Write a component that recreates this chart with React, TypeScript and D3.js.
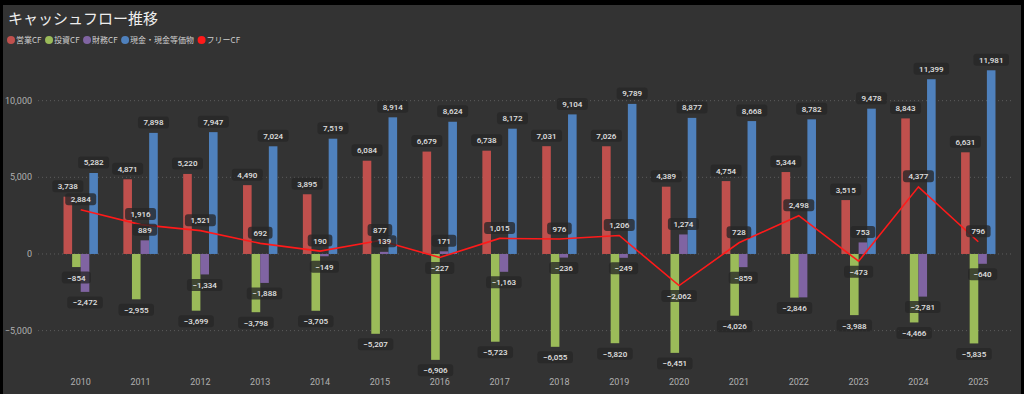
import React, { useEffect, useRef } from 'react'
import * as d3 from 'd3'

const width = 1024
const height = 394

const years = ['2010', '2011', '2012', '2013', '2014', '2015', '2016', '2017', '2018', '2019', '2020', '2021', '2022', '2023', '2024', '2025']
const operatingCF = [3738, 4871, 5220, 4490, 3895, 6084, 6679, 6738, 7031, 7026, 4389, 4754, 5344, 3515, 8843, 6631]
const investingCF = [-854, -2955, -3699, -3798, -3705, -5207, -6906, -5723, -6055, -5820, -6451, -4026, -2846, -3988, -4466, -5835]
const financingCF = [-2472, 889, -1334, -1888, -149, 139, 171, -1163, -236, -249, 1274, -859, -2830, 753, -2781, -640]
const cashBalance = [5282, 7898, 7947, 7024, 7519, 8914, 8624, 8172, 9104, 9789, 8877, 8668, 8782, 9478, 11399, 11981]
const freeCF = [2884, 1916, 1521, 692, 190, 877, -227, 1015, 976, 1206, -2062, 728, 2498, -473, 4377, 796]

const seriesNames = ['営業CF', '投資CF', '財務CF', '現金・現金等価物', 'フリーCF']
const seriesColors = ['#c0504d', '#9bbb59', '#8064a2', '#4f81bd', '#ff1a1a']
const yTicks = [-5000, 0, 5000, 10000]

const title = 'キャッシュフロー推移'
const labelFont = 'Roboto, "DejaVu Sans", sans-serif'
const jpFont = '"Noto Sans CJK JP", "Noto Sans", sans-serif'

function App() {
  const ref = useRef<SVGSVGElement>(null)

  useEffect(() => {
    const svg = d3.select(ref.current)
    svg.selectAll('*').remove()

    // 背景
    svg.append('rect').attr('width', width).attr('height', height).attr('fill', '#000')
    svg.append('rect')
      .attr('x', 3).attr('y', 5)
      .attr('width', 1018).attr('height', height - 5)
      .attr('fill', '#333333')

    const x = d3.scaleBand<string>()
      .domain(years)
      .range([50.8, 1008.2])
      .paddingInner(0.425)
      .paddingOuter(0.2125)
    const sub = d3.scaleBand<number>()
      .domain([0, 1, 2, 3])
      .range([0, x.bandwidth()])
    const y = d3.scaleLinear().domain([-7000, 12000]).range([361.3, 70])
    const fmt = d3.format(',')

    // グリッド
    svg.append('g').selectAll('line')
      .data(yTicks)
      .enter().append('line')
      .attr('x1', 38).attr('x2', 1012)
      .attr('y1', (d) => y(d)).attr('y2', (d) => y(d))
      .attr('stroke', '#5c5c5c')
      .attr('stroke-width', 1)
      .attr('stroke-dasharray', '1,3')

    svg.append('g').selectAll('text')
      .data(yTicks)
      .enter().append('text')
      .attr('x', 32)
      .attr('y', (d) => y(d) + 3)
      .attr('text-anchor', 'end')
      .style('font-family', labelFont)
      .style('font-size', '9px')
      .attr('fill', '#b0b0b0')
      .text((d) => fmt(d))

    svg.append('g').selectAll('text')
      .data(years)
      .enter().append('text')
      .attr('x', (d) => (x(d) as number) + x.bandwidth() / 2)
      .attr('y', 385)
      .attr('text-anchor', 'middle')
      .style('font-family', labelFont)
      .style('font-size', '9px')
      .attr('fill', '#b0b0b0')
      .text((d) => d)

    // 棒
    const barSeries = [operatingCF, investingCF, financingCF, cashBalance]
    barSeries.forEach((values, si) => {
      svg.append('g').selectAll('rect')
        .data(values)
        .enter().append('rect')
        .attr('x', (_, i) => (x(years[i]) as number) + (sub(si) as number))
        .attr('width', sub.bandwidth())
        .attr('y', (d) => y(Math.max(0, d)))
        .attr('height', (d) => Math.abs(y(d) - y(0)))
        .attr('fill', seriesColors[si])
    })

    // フリーCF
    const cx = (i: number) => (x(years[i]) as number) + x.bandwidth() / 2
    svg.append('path')
      .datum(freeCF)
      .attr('fill', 'none')
      .attr('stroke', seriesColors[4])
      .attr('stroke-width', 1.6)
      .attr('d', d3.line<number>()
        .x((_, i) => cx(i))
        .y((d) => y(d)))

    // ラベル
    const placed: { x0: number; x1: number; y0: number; y1: number }[] = []
    const labelLayer = svg.append('g')
    const addLabel = (v: number, lx: number, ly: number) => {
      const g = labelLayer.append('g')
      const rect = g.append('rect')
      const t = g.append('text')
        .attr('x', lx)
        .attr('y', ly + 3)
        .attr('text-anchor', 'middle')
        .style('font-family', labelFont)
        .style('font-size', '8px')
        .style('font-weight', 500)
        .attr('fill', '#e2e2e2')
        .text(fmt(v))
      const tw = (t.node() as SVGTextElement).getComputedTextLength()
      const bw = tw + 11
      const bh = 12
      const box = { x0: lx - bw / 2, x1: lx + bw / 2, y0: ly - bh / 2, y1: ly + bh / 2 }
      const hit = placed.some((b) =>
        Math.min(b.x1, box.x1) - Math.max(b.x0, box.x0) > 4 &&
        Math.min(b.y1, box.y1) - Math.max(b.y0, box.y0) > 4)
      if (hit) {
        g.remove()
        return
      }
      placed.push(box)
      rect
        .attr('x', box.x0).attr('y', box.y0)
        .attr('width', bw).attr('height', bh)
        .attr('rx', 3)
        .attr('fill', 'rgba(38,38,38,0.78)')
    }

    const offset = 10.5
    barSeries.forEach((values, si) => {
      values.forEach((v, i) => {
        const lx = (x(years[i]) as number) + (sub(si) as number) + sub.bandwidth() / 2
        addLabel(v, lx, v >= 0 ? y(v) - offset : y(v) + offset)
      })
    })
    freeCF.forEach((v, i) => {
      addLabel(v, cx(i), v >= 0 ? y(v) - offset : y(v) + offset)
    })

    // タイトル
    svg.append('text')
      .attr('x', 8).attr('y', 23.5)
      .style('font-family', jpFont)
      .style('font-size', '15px')
      .style('font-weight', 400)
      .attr('fill', '#eeeeee')
      .text(title)

    // 凡例
    let lx = 7
    seriesNames.forEach((name, i) => {
      const g = svg.append('g')
      g.append('circle')
        .attr('cx', lx + 4).attr('cy', 40)
        .attr('r', 4)
        .attr('fill', seriesColors[i])
      const t = g.append('text')
        .attr('x', lx + 9).attr('y', 43)
        .style('font-family', jpFont)
        .style('font-size', '8px')
        .attr('fill', '#cfcfcf')
        .text(name)
      const tw = (t.node() as SVGTextElement).getComputedTextLength()
      lx += 9 + tw + 3.5
    })
  }, [])

  return (
    <div style={{ position: 'fixed', left: 0, top: 0, width, height, background: '#000' }}>
      <svg ref={ref} width={width} height={height} style={{ display: 'block' }} />
    </div>
  )
}

export default App
